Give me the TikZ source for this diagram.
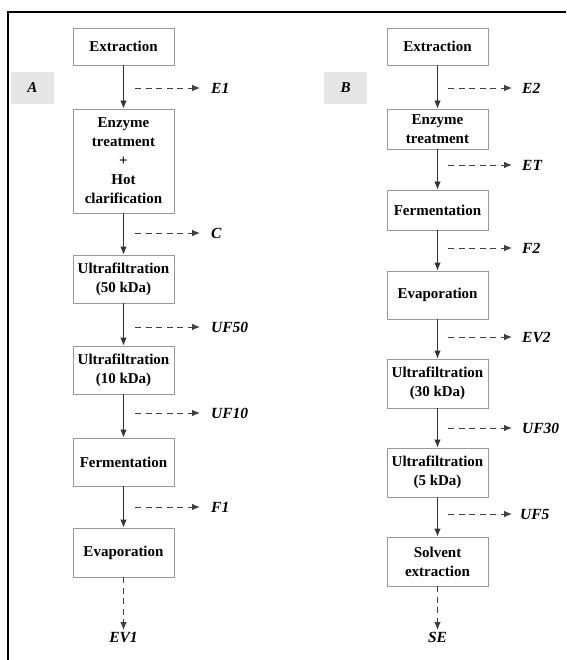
\documentclass[tikz,border=0pt]{standalone}
\usepackage{fontspec}
\setmainfont{Liberation Serif}
\usetikzlibrary{arrows.meta}
\begin{document}
\begin{tikzpicture}[x=1pt,y=-1pt,
  stepbox/.style={draw=black!40,line width=0.9pt,fill=white,minimum width=101pt,
    align=center,inner sep=1pt,font=\fontsize{15}{19}\selectfont\bfseries},
  lab/.style={font=\fontsize{15.5}{19}\selectfont\bfseries\itshape,inner sep=2pt},
  tag/.style={fill=black!10,minimum width=43pt,minimum height=32pt,inner sep=0pt,
    font=\fontsize{15}{19}\selectfont\bfseries\itshape},
  flow/.style={draw=black!80,line width=0.9pt,-{Latex[length=8pt,width=6.5pt]}},
  side/.style={draw=black!75,line width=0.9pt,dash pattern=on 6pt off 4.5pt,-{Latex[length=8pt,width=6.5pt]}}]
\useasboundingbox (0,0) rectangle (566,660);
\draw[line width=1.3pt] (8,660) -- (8,12) -- (566,12);
% tags
\node[tag] (tA) at (32.5,88) {A};
\node[tag] (tB) at (345.5,88) {B};
% left column
\node[stepbox,minimum height=37pt] (a1) at (123.5,46.5) {Extraction};
\node[stepbox,minimum height=104pt] (a2) at (123.5,161) {Enzyme\\treatment\\+\\Hot\\clarification};
\node[stepbox,minimum height=48pt] (a3) at (123.5,279) {Ultrafiltration\\(50 kDa)};
\node[stepbox,minimum height=48pt] (a4) at (123.5,370) {Ultrafiltration\\(10 kDa)};
\node[stepbox,minimum height=48pt] (a5) at (123.5,462) {Fermentation};
\node[stepbox,minimum height=49pt] (a6) at (123.5,552.5) {Evaporation};
\node[lab,anchor=north] (EV1) at (123.5,630) {EV1};
\draw[flow] (a1) -- (a2);
\draw[flow] (a2) -- (a3);
\draw[flow] (a3) -- (a4);
\draw[flow] (a4) -- (a5);
\draw[flow] (a5) -- (a6);
\draw[side] (a6) -- (EV1);
% left side outputs
\node[lab,anchor=west] (E1) at (209,88) {E1};
\node[lab,anchor=west] (C) at (209,233) {C};
\node[lab,anchor=west] (UF50) at (209,327) {UF50};
\node[lab,anchor=west] (UF10) at (209,413) {UF10};
\node[lab,anchor=west] (F1) at (209,507) {F1};
\coordinate (sa1) at (135,88);
\coordinate (sa2) at (135,233);
\coordinate (sa3) at (135,327);
\coordinate (sa4) at (135,413);
\coordinate (sa5) at (135,507);
\draw[side,shorten >=9pt] (sa1) -- (E1.west);
\draw[side,shorten >=9pt] (sa2) -- (C.west);
\draw[side,shorten >=9pt] (sa3) -- (UF50.west);
\draw[side,shorten >=9pt] (sa4) -- (UF10.west);
\draw[side,shorten >=9pt] (sa5) -- (F1.west);
% right column
\node[stepbox,minimum height=37pt] (b1) at (437.5,46.5) {Extraction};
\node[stepbox,minimum height=40pt] (b2) at (437.5,129) {Enzyme\\treatment};
\node[stepbox,minimum height=40pt] (b3) at (437.5,210) {Fermentation};
\node[stepbox,minimum height=48pt] (b4) at (437.5,295) {Evaporation};
\node[stepbox,minimum height=49pt] (b5) at (437.5,383.5) {Ultrafiltration\\(30 kDa)};
\node[stepbox,minimum height=49pt] (b6) at (437.5,472.5) {Ultrafiltration\\(5 kDa)};
\node[stepbox,minimum height=49pt] (b7) at (437.5,561.5) {Solvent\\extraction};
\node[lab,anchor=north] (SE) at (437.5,630) {SE};
\draw[flow] (b1) -- (b2);
\draw[flow] (b2) -- (b3);
\draw[flow] (b3) -- (b4);
\draw[flow] (b4) -- (b5);
\draw[flow] (b5) -- (b6);
\draw[flow] (b6) -- (b7);
\draw[side] (b7) -- (SE);
% right side outputs
\node[lab,anchor=west] (E2) at (520,88) {E2};
\node[lab,anchor=west] (ET) at (520,165) {ET};
\node[lab,anchor=west] (F2) at (520,248) {F2};
\node[lab,anchor=west] (EV2) at (520,337) {EV2};
\node[lab,anchor=west] (UF30) at (520,428) {UF30};
\node[lab,anchor=west] (UF5) at (518,514) {UF5};
\coordinate (sb1) at (448,88);
\coordinate (sb2) at (448,165);
\coordinate (sb3) at (448,248);
\coordinate (sb4) at (448,337);
\coordinate (sb5) at (448,428);
\coordinate (sb6) at (448,514);
\draw[side,shorten >=8pt] (sb1) -- (E2.west);
\draw[side,shorten >=8pt] (sb2) -- (ET.west);
\draw[side,shorten >=8pt] (sb3) -- (F2.west);
\draw[side,shorten >=8pt] (sb4) -- (EV2.west);
\draw[side,shorten >=8pt] (sb5) -- (UF30.west);
\draw[side,shorten >=6pt] (sb6) -- (UF5.west);
\end{tikzpicture}
\end{document}
